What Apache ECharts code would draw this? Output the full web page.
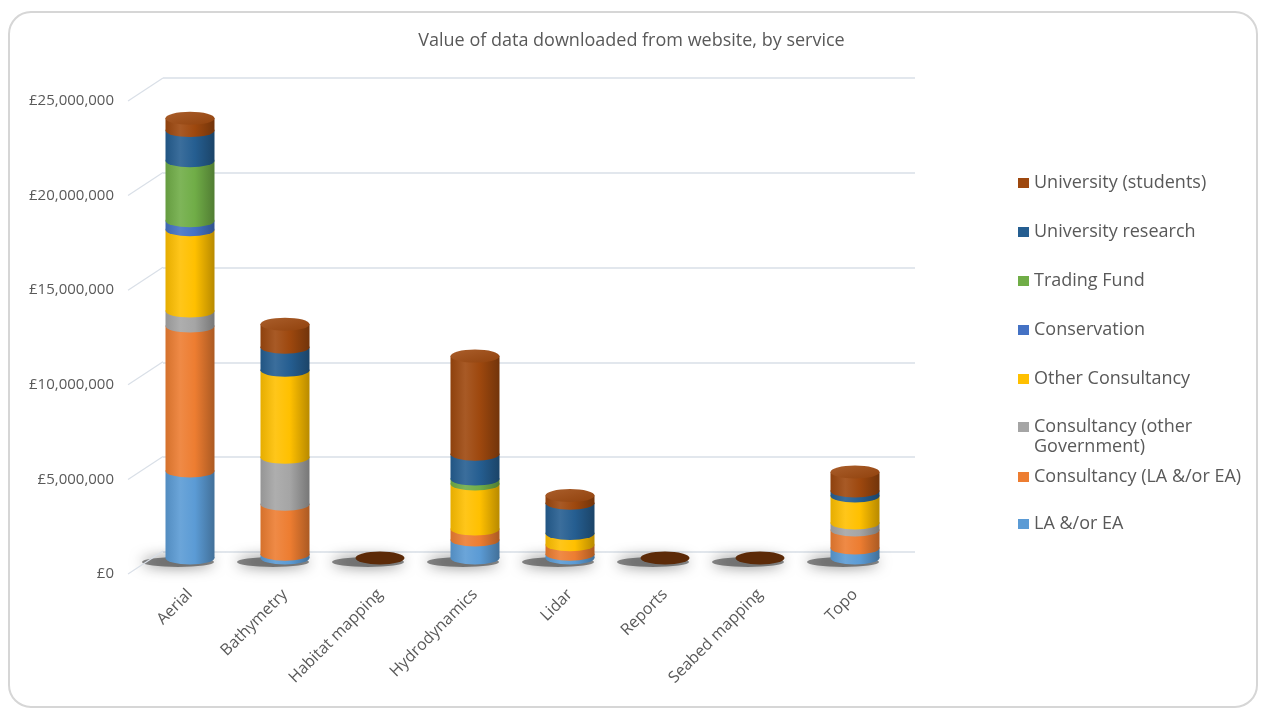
<!DOCTYPE html>
<html>
<head>
<meta charset="utf-8">
<script src="https://cdn.jsdelivr.net/npm/echarts@6/dist/echarts.min.js"></script>
<style>
  html, body { margin: 0; padding: 0; background: #ffffff; }
  #chart { width: 1263px; height: 713px; }
</style>
</head>
<body>
<div id="chart"></div>
<script>
// Services (x categories)
const categories = ['Aerial', 'Bathymetry', 'Habitat mapping', 'Hydrodynamics', 'Lidar', 'Reports', 'Seabed mapping', 'Topo'];

// Value of downloaded data per user group, £
const laEa                = [4600000,  200000, 0,  950000,  200000, 0, 0,  530000];
const consultancyLaEa     = [7660000, 2640000, 0,  580000,  500000, 0, 0,  950000];
const consultancyOtherGov = [ 790000, 2480000, 0,       0,       0, 0, 0,  370000];
const otherConsultancy    = [4300000, 4600000, 0, 2380000,  600000, 0, 0, 1430000];
const conservation        = [ 480000,       0, 0,       0,       0, 0, 0,       0];
const tradingFund         = [3170000,       0, 0,  260000,       0, 0, 0,       0];
const universityResearch  = [1590000, 1220000, 0, 1320000, 1600000, 0, 0,  260000];
const universityStudents  = [ 650000, 1220000, 0, 5180000,  400000, 0, 0, 1000000];

// Value axis ticks
const yTicks = [0, 5000000, 10000000, 15000000, 20000000, 25000000];

const FONT = 'Open Sans';
const TEXT = '#595959';
const WALL = '#d9dfe7';

// Stacking order, bottom to top
const groups = [
  { name: 'LA &/or EA',                     values: laEa,                color: '#5B9BD5' },
  { name: 'Consultancy (LA &/or EA)',       values: consultancyLaEa,     color: '#ED7D31' },
  { name: 'Consultancy (other Government)', values: consultancyOtherGov, color: '#A5A5A5' },
  { name: 'Other Consultancy',              values: otherConsultancy,    color: '#FFC000' },
  { name: 'Conservation',                   values: conservation,        color: '#4472C4' },
  { name: 'Trading Fund',                   values: tradingFund,         color: '#70AD47' },
  { name: 'University research',            values: universityResearch,  color: '#255E91' },
  { name: 'University (students)',          values: universityStudents,  color: '#9E480E' }
];

function shade(hex, f) {
  const n = parseInt(hex.slice(1), 16);
  const t = f < 0 ? 0 : 255, p = Math.abs(f);
  const c = [n >> 16, (n >> 8) & 255, n & 255].map(v => Math.round((t - v) * p + v));
  return 'rgb(' + c.join(',') + ')';
}

// Horizontal shading that makes a flat column read as a cylinder
function cylinderFill(hex) {
  return new echarts.graphic.LinearGradient(0, 0, 1, 0, [
    { offset: 0,    color: shade(hex, -0.1) },
    { offset: 0.3,  color: shade(hex, 0.1) },
    { offset: 0.6,  color: hex },
    { offset: 1,    color: shade(hex, -0.28) }
  ]);
}

function capFill(hex, empty) {
  if (empty) return shade(hex, -0.42);   // flat disc of an empty column
  return new echarts.graphic.LinearGradient(0, 0, 1, 1, [
    { offset: 0, color: shade(hex, 0.12) },
    { offset: 1, color: shade(hex, -0.08) }
  ]);
}

const BAR_W = 49;
const ELLIPSE_H = 13;
const WALL_DX = 35, WALL_DY = -23;   // offset of the back wall from the front axis

// Running totals below each segment
const below = groups.map(() => categories.map(() => 0));
const totals = categories.map(() => 0);
groups.forEach((g, i) => {
  categories.forEach((c, j) => {
    below[i][j] = totals[j];
    totals[j] += g.values[j];
  });
});

const series = [];

// Soft floor shadows under each column
series.push({
  type: 'scatter', name: 'floor-shadow', xAxisIndex: 0, yAxisIndex: 0, silent: true, clip: false, z: 1,
  symbol: 'circle', symbolSize: [72, 10], symbolOffset: [-12, 4],
  itemStyle: {
    opacity: 1,
    color: 'rgba(60,60,60,0.6)',
    shadowBlur: 14,
    shadowColor: 'rgba(30,30,30,0.95)'
  },
  data: categories.map((c, j) => [j, 0])
});

// Column sides
groups.forEach(g => {
  series.push({
    type: 'bar', name: g.name, stack: 'total', xAxisIndex: 0, yAxisIndex: 0,
    barWidth: BAR_W, z: 2,
    itemStyle: { color: cylinderFill(g.color) },
    data: g.values
  });
});

// Curved lower rim of every segment
groups.forEach((g, i) => {
  const pts = [];
  categories.forEach((c, j) => { if (g.values[j] > 0) pts.push([j, below[i][j]]); });
  series.push({
    type: 'scatter', name: 'rim-' + i, xAxisIndex: 0, yAxisIndex: 0, silent: true, clip: false,
    z: 3 + i, symbol: 'circle', symbolSize: [BAR_W, ELLIPSE_H],
    itemStyle: { opacity: 1, color: cylinderFill(g.color) },
    data: pts
  });
});

// Top caps
series.push({
  type: 'scatter', name: 'cap', xAxisIndex: 0, yAxisIndex: 0, silent: true, clip: false, z: 20,
  symbol: 'circle', symbolSize: [BAR_W, ELLIPSE_H],
  data: categories.map((c, j) => {
    let top = groups[groups.length - 1];
    for (let i = groups.length - 1; i >= 0; i--) { if (groups[i].values[j] > 0) { top = groups[i]; break; } }
    return { value: [j, totals[j]], itemStyle: { opacity: 1, color: capFill(top.color, totals[j] === 0) } };
  })
});

// Diagonal links from the front axis labels to the back wall
series.push({
  type: 'custom', name: 'wall-links', xAxisIndex: 2, yAxisIndex: 2, silent: true, clip: false,
  renderItem: (params, api) => {
    const p = api.coord([0, api.value(1)]);
    return {
      type: 'line',
      shape: { x1: p[0], y1: p[1], x2: p[0] + WALL_DX, y2: p[1] + WALL_DY },
      style: { stroke: WALL, lineWidth: 1.2 }
    };
  },
  data: yTicks.map(v => [0, v])
});

// Legend, top to bottom (reverse of the stacking order)
const legendItems = groups.slice().reverse().map(g => ({ name: g.name, itemStyle: { color: g.color } }));
const legendBase = {
  orient: 'vertical', left: 1018, padding: 0,
  itemWidth: 11, itemHeight: 10, icon: 'rect',
  textStyle: { fontFamily: FONT, fontSize: 18, color: TEXT, lineHeight: 20 }
};

const option = {
  animation: false,
  title: {
    text: 'Value of data downloaded from website, by service',
    left: 'center', top: 27,
    textStyle: { fontFamily: FONT, fontSize: 18, fontWeight: 'normal', color: TEXT }
  },
  legend: [
    Object.assign({}, legendBase, { top: 173, itemGap: 29, data: legendItems.slice(0, 5) }),
    // the wrapped entry keeps its marker beside the first line
    Object.assign({}, legendBase, {
      top: 397,
      formatter: name => '\n' + name.replace(' Government', '\nGovernment'),
      data: legendItems.slice(5, 6)
    }),
    Object.assign({}, legendBase, { top: 467, itemGap: 27, data: legendItems.slice(6) })
  ],
  grid: [
    { left: 142.5, width: 760, top: 85, height: 473 },  // columns
    { left: 163, width: 752, top: 78, height: 474 },    // back wall
    { left: 128, width: 10, top: 101, height: 473 }     // front value labels
  ],
  xAxis: [
    {
      type: 'category', gridIndex: 0, data: categories,
      axisLine: { show: false }, axisTick: { show: false },
      axisLabel: { rotate: 45, margin: 34, interval: 0, fontFamily: FONT, fontSize: 16, color: TEXT }
    },
    { type: 'category', gridIndex: 1, data: categories, show: false },
    { type: 'value', gridIndex: 2, min: 0, max: 1, show: false }
  ],
  yAxis: [
    { type: 'value', gridIndex: 0, min: 0, max: yTicks[yTicks.length - 1], show: false },
    {
      type: 'value', gridIndex: 1, min: 0, max: yTicks[yTicks.length - 1], interval: yTicks[1],
      axisLine: { show: false }, axisTick: { show: false }, axisLabel: { show: false },
      splitLine: { lineStyle: { color: WALL, width: 1.5 } }
    },
    {
      type: 'value', gridIndex: 2, min: 0, max: yTicks[yTicks.length - 1], interval: yTicks[1],
      axisLine: { show: false }, axisTick: { show: false }, splitLine: { show: false },
      axisLabel: {
        margin: 14, fontFamily: FONT, fontSize: 15, color: TEXT,
        formatter: v => '£' + v.toLocaleString('en-GB')
      }
    }
  ],
  graphic: [{
    type: 'rect', silent: true, z: -10,
    shape: { x: 9, y: 12, width: 1248, height: 695, r: 22 },
    style: { fill: 'none', stroke: '#d6d6d6', lineWidth: 2 }
  }],
  series: series
};

const chart = echarts.init(document.getElementById('chart'), null, { renderer: 'canvas' });
chart.setOption(option);
</script>
</body>
</html>
